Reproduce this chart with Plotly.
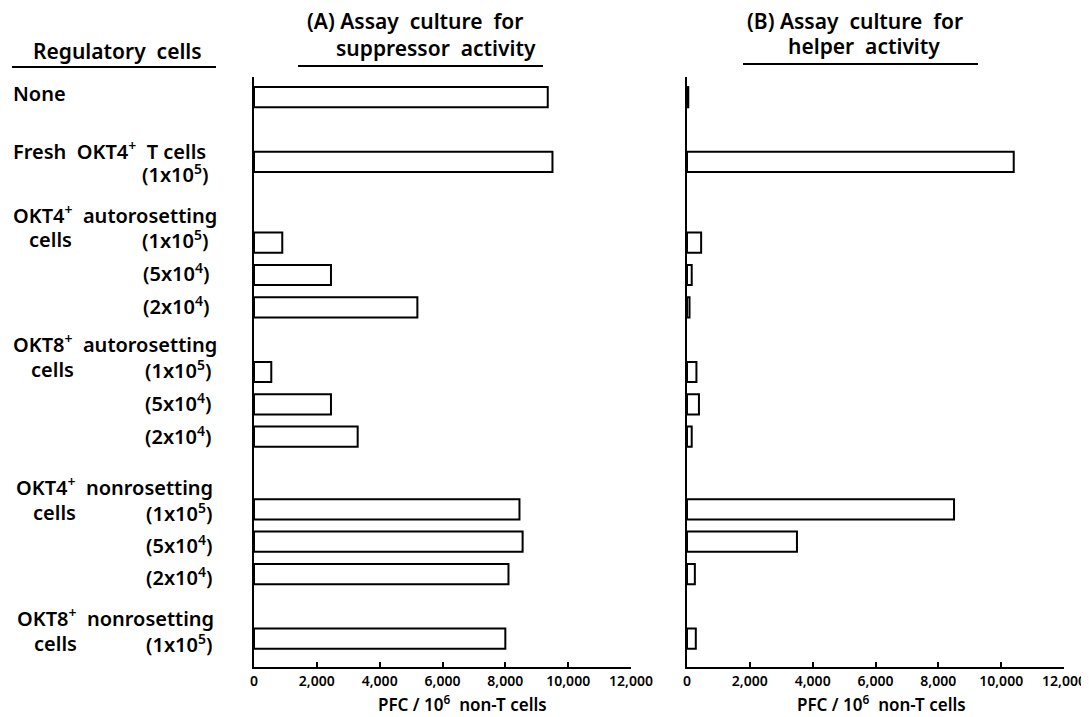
import plotly.graph_objects as go

# ---------------- data ----------------
categories = [
    "None",
    "Fresh OKT4+ T cells (1x10^5)",
    "OKT4+ autorosetting (1x10^5)",
    "OKT4+ autorosetting (5x10^4)",
    "OKT4+ autorosetting (2x10^4)",
    "OKT8+ autorosetting (1x10^5)",
    "OKT8+ autorosetting (5x10^4)",
    "OKT8+ autorosetting (2x10^4)",
    "OKT4+ nonrosetting (1x10^5)",
    "OKT4+ nonrosetting (5x10^4)",
    "OKT4+ nonrosetting (2x10^4)",
    "OKT8+ nonrosetting (1x10^5)",
]
suppressor_pfc = [9350, 9500, 900, 2450, 5200, 550, 2450, 3300, 8450, 8550, 8100, 8000]
helper_pfc = [40, 10400, 450, 150, 80, 300, 380, 150, 8500, 3500, 250, 280]
tick_values = [0, 2000, 4000, 6000, 8000, 10000, 12000]
tick_labels = ["0", "2,000", "4,000", "6,000", "8,000", "10,000", "12,000"]

# ---------------- layout helpers ----------------
PAGE_MARGIN = 8                      # default body margin of the html page
W, H = 1089, 717 - PAGE_MARGIN
TOP, BOTTOM = 77, 667                # plot area in window pixels
row_gaps = [0, 8, 10, 4, 4, 8, 4, 4, 9, 4, 4, 8]   # quarter-row spacing before each category
cat_order = []
k = 0
for cat, g in zip(categories, row_gaps):
    for _ in range(max(g - 1, 0)):
        cat_order.append("_sp%d" % k)
        k += 1
    cat_order.append(cat)

FONT = "Noto Sans"
BLACK = "#000000"
SP = "\u00a0"
S2 = SP * 2


def px(x):
    return (x - PAGE_MARGIN) / W


def py(y):
    return (BOTTOM - y) / (BOTTOM - TOP)


fig = go.Figure()
bar_style = dict(orientation="h", width=2.5,
                 marker=dict(color="white", line=dict(color=BLACK, width=2)),
                 showlegend=False, hoverinfo="x+y")
fig.add_trace(go.Bar(x=suppressor_pfc, y=categories, xaxis="x", yaxis="y", **bar_style))
fig.add_trace(go.Bar(x=helper_pfc, y=categories, xaxis="x2", yaxis="y2", **bar_style))

xaxis_style = dict(range=[0, 12000], tickvals=tick_values, ticktext=tick_labels,
                   ticks="inside", ticklen=5, tickwidth=1.5, tickcolor=BLACK,
                   showline=True, linecolor=BLACK, linewidth=2, showgrid=False,
                   zeroline=False, automargin=False, ticklabeloverflow="allow",
                   tickfont=dict(family=FONT, size=14, color=BLACK, weight=600),
                   fixedrange=True)
yaxis_style = dict(type="category", categoryorder="array", categoryarray=cat_order,
                   range=[70.5, -2.5], showline=True, linecolor=BLACK, linewidth=2,
                   showticklabels=False, ticks="", showgrid=False, zeroline=False,
                   automargin=False, fixedrange=True)

fig.update_layout(
    width=W, height=H,
    margin=dict(l=0, r=0, t=TOP - PAGE_MARGIN, b=H - (BOTTOM - PAGE_MARGIN),
                pad=0, autoexpand=False),
    paper_bgcolor="white", plot_bgcolor="white",
    xaxis=dict(domain=[px(254), px(631)], anchor="y", **xaxis_style),
    xaxis2=dict(domain=[px(687), px(1064)], anchor="y2", **xaxis_style),
    yaxis=dict(domain=[0, 1], anchor="x", **yaxis_style),
    yaxis2=dict(domain=[0, 1], anchor="x2", **yaxis_style),
    font=dict(family=FONT, color=BLACK),
)

annotations = []


def txt(text, x, y, anchor="left", size=20):
    annotations.append(dict(text=text, x=px(x), y=py(y), xref="paper", yref="paper",
                            xanchor=anchor, yanchor="middle", showarrow=False,
                            borderpad=0,
                            font=dict(family=FONT, size=size, color=BLACK, weight=600)))


# headers
txt("Regulatory" + S2 + "cells", 117, 51, "center", 21)
txt("(A) Assay" + S2 + "culture" + S2 + "for", 415, 21, "center", 21)
txt("suppressor" + S2 + "activity", 436, 48, "center", 21)
txt("(B) Assay" + S2 + "culture" + S2 + "for", 855, 21, "center", 21)
txt("helper" + S2 + "activity", 864, 46, "center", 21)

# left labels
txt("None", 12, 93)
txt("Fresh" + S2 + "OKT4<sup>+</sup>" + S2 + "T cells", 12, 150)
txt("(1x10<sup>5</sup>)", 210, 173, "right")
txt("OKT4<sup>+</sup>" + S2 + "autorosetting", 12, 214)
txt("cells", 28, 240)
txt("(1x10<sup>5</sup>)", 210, 240, "right")
txt("(5x10<sup>4</sup>)", 211, 272, "right")
txt("(2x10<sup>4</sup>)", 211, 305, "right")
txt("OKT8<sup>+</sup>" + S2 + "autorosetting", 12, 343)
txt("cells", 30, 369)
txt("(1x10<sup>5</sup>)", 213, 369, "right")
txt("(5x10<sup>4</sup>)", 213, 402, "right")
txt("(2x10<sup>4</sup>)", 213, 435, "right")
txt("OKT4<sup>+</sup>" + S2 + "nonrosetting", 15, 486)
txt("cells", 32, 512)
txt("(1x10<sup>5</sup>)", 214, 512, "right")
txt("(5x10<sup>4</sup>)", 214, 544, "right")
txt("(2x10<sup>4</sup>)", 214, 576, "right")
txt("OKT8<sup>+</sup>" + S2 + "nonrosetting", 16, 617)
txt("cells", 33, 643)
txt("(1x10<sup>5</sup>)", 214, 643, "right")

# axis titles
txt("PFC / 10<sup>6</sup>" + S2 + "non-T cells", 462, 703, "center", 17)
txt("PFC / 10<sup>6</sup>" + S2 + "non-T cells", 881, 703, "center", 17)

fig.update_layout(annotations=annotations)

# underlines
lines = [(12, 216, 67), (298, 543, 66), (743, 978, 64)]
fig.update_layout(shapes=[dict(type="line", xref="paper", yref="paper",
                               x0=px(a), x1=px(b), y0=py(y), y1=py(y),
                               line=dict(color=BLACK, width=2)) for a, b, y in lines])

fig.write_html("out.html")
